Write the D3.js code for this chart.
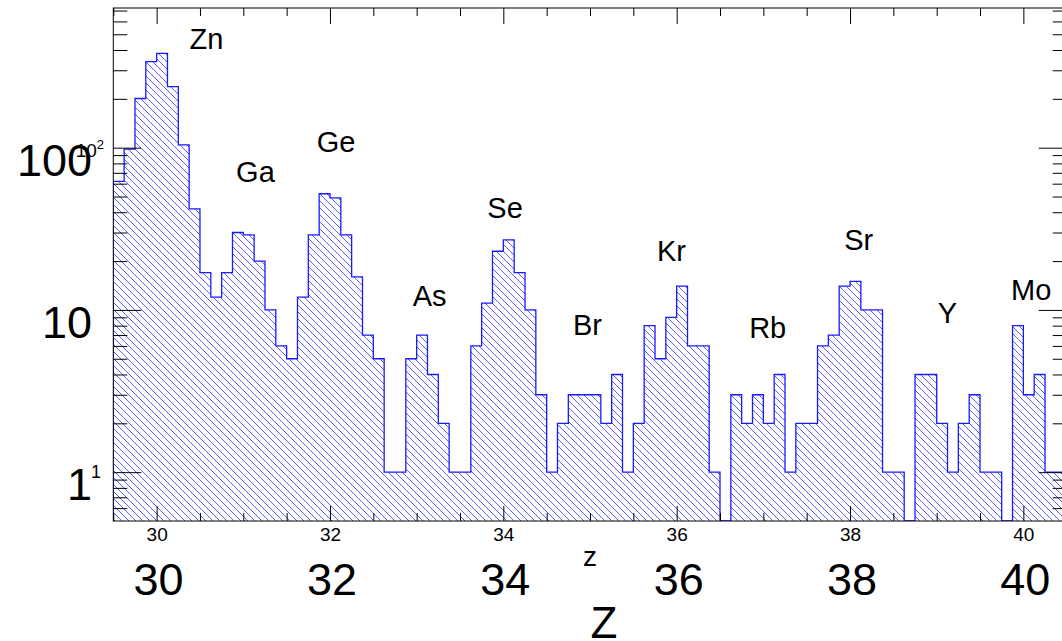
<!DOCTYPE html>
<html>
<head>
  <meta charset="utf-8">
  <title>Z</title>
  <script src="https://d3js.org/d3.v7.min.js"></script>
  <style>
    body { margin: 0; background: #fff; }
    text { font-family: "Liberation Sans", Arial, Helvetica, sans-serif; fill: #000; }
  </style>
</head>
<body>
<div id="vis"></div>
<script>
// histogram: 88 bins of 0.125 from Z = 29.5
var binStart = 29.5;
var binWidth = 0.125;
var counts = [
  62, 98, 201, 339, 381, 238, 104, 42,
  17, 12, 17, 30, 29, 20, 10, 6,
  5, 12, 29, 52, 49, 29, 16, 7,
  5, 1, 1, 5, 7, 4, 2, 1,
  1, 6, 11, 23, 27, 17, 10, 3,
  1, 2, 3, 3, 3, 2, 4, 1,
  2, 8, 5, 9, 14, 6, 6, 1,
  0, 3, 2, 3, 2, 4, 1, 2,
  2, 6, 7, 14, 15, 10, 10, 1,
  1, 0, 4, 4, 2, 1, 2, 3,
  1, 1, 0, 8, 3, 4, 1, 1
];

// element labels (position in Z, height in counts)
var elemNames = ["Zn", "Ga", "Ge", "As", "Se", "Br", "Kr", "Rb", "Sr", "Y", "Mo"];
var elemZ     = [30.575, 31.14, 32.07, 33.15, 34.02, 34.97, 35.94, 37.05, 38.10, 39.125, 40.09];
var elemY     = [405, 61.5, 94, 10.6, 36.9, 7.0, 20.1, 6.7, 23.4, 8.3, 11.5];

// axis ticks
var xMajor = [30, 32, 34, 36, 38, 40];
var xMinor = [29.5, 30.5, 31, 31.5, 32.5, 33, 33.5, 34.5, 35, 35.5, 36.5, 37, 37.5, 38.5, 39, 39.5, 40.5];
var yMajor = [1, 10, 100];
var yMinor = [0.6, 0.7, 0.8, 0.9, 2, 3, 4, 5, 6, 7, 8, 9, 20, 30, 40, 50, 60, 70, 80, 90, 200, 300, 400, 500, 600, 700];
var xTitle = "Z";

var W = 1062, H = 641;
var fL = 113.3, fR = 1066.7, fT = 8, fB = 521;

var x = d3.scaleLinear().domain([29.5, 40.5]).range([fL, fR]);
var y = d3.scaleLog().domain([0.5, 726]).range([fB, fT]).clamp(true);

var svg = d3.select("#vis").append("svg")
  .attr("width", W)
  .attr("height", H);

svg.append("rect").attr("width", W).attr("height", H).attr("fill", "#fff");

var defs = svg.append("defs");
var pat = defs.append("pattern")
  .attr("id", "hatch")
  .attr("patternUnits", "userSpaceOnUse")
  .attr("width", 7)
  .attr("height", 7);
pat.append("path")
  .attr("d", "M-1,-1L8,8M-1,6L1,8M6,-1L8,1")
  .attr("stroke", "#3333ff")
  .attr("stroke-opacity", 0.8)
  .attr("stroke-width", 1);

defs.append("clipPath").attr("id", "frame")
  .append("rect")
  .attr("x", fL).attr("y", fT)
  .attr("width", fR - fL).attr("height", fB - fT);

// step outline of the histogram
var pts = [[x(binStart), y(0.5)]];
counts.forEach(function(c, i) {
  var x0 = binStart + i * binWidth;
  var v = c > 0 ? c : 0.5;
  pts.push([x(x0), y(v)]);
  pts.push([x(x0 + binWidth), y(v)]);
});
pts.push([x(binStart + counts.length * binWidth), y(0.5)]);

var g = svg.append("g").attr("clip-path", "url(#frame)");
g.append("path")
  .attr("d", d3.line()(pts) + "Z")
  .attr("fill", "url(#hatch)")
  .attr("stroke", "none");
g.append("path")
  .attr("d", d3.line()(pts))
  .attr("fill", "none")
  .attr("stroke", "#1a1aff")
  .attr("stroke-width", 1.3);

// frame
svg.append("rect")
  .attr("x", fL).attr("y", fT)
  .attr("width", fR - fL).attr("height", fB - fT)
  .attr("fill", "none")
  .attr("stroke", "#000")
  .attr("stroke-width", 1);

function tickStyle(sel) {
  sel.select(".domain").remove();
  sel.selectAll(".tick line").attr("stroke", "#000");
}

// bottom axis (small labels)
svg.append("g")
  .attr("transform", "translate(0," + fB + ")")
  .call(d3.axisBottom(x).tickValues(xMajor).tickSize(-15).tickPadding(7).tickFormat(d3.format("d")))
  .call(tickStyle)
  .selectAll("text")
  .style("font-size", "19px");
svg.append("g")
  .attr("transform", "translate(0," + fB + ")")
  .call(d3.axisBottom(x).tickValues(xMinor).tickSize(-8).tickFormat(""))
  .call(tickStyle);

// top axis
svg.append("g")
  .attr("transform", "translate(0," + fT + ")")
  .call(d3.axisTop(x).tickValues(xMajor).tickSize(-16).tickFormat(""))
  .call(tickStyle);
svg.append("g")
  .attr("transform", "translate(0," + fT + ")")
  .call(d3.axisTop(x).tickValues(xMinor).tickSize(-8).tickFormat(""))
  .call(tickStyle);

// left and right axes
[[d3.axisLeft, fL], [d3.axisRight, fR]].forEach(function(a) {
  svg.append("g")
    .attr("transform", "translate(" + a[1] + ",0)")
    .call(a[0](y).tickValues(yMajor).tickSize(-28).tickFormat(""))
    .call(tickStyle);
  svg.append("g")
    .attr("transform", "translate(" + a[1] + ",0)")
    .call(a[0](y).tickValues(yMinor).tickSize(-14).tickFormat(""))
    .call(tickStyle);
});

// small y labels (1 and 10^2)
svg.append("text")
  .attr("x", 101).attr("y", y(1)).attr("dy", "0.35em")
  .attr("text-anchor", "end")
  .style("font-size", "18px")
  .text("1");
var sup = svg.append("text")
  .attr("x", 104).attr("y", y(100) + 9)
  .attr("text-anchor", "end")
  .style("font-size", "19px");
sup.append("tspan").text("10");
sup.append("tspan").attr("dy", -8).style("font-size", "13px").text("2");

// big overlay labels
svg.selectAll("text.bigy").data(yMajor).enter().append("text")
  .attr("class", "bigy")
  .attr("x", 92)
  .attr("y", function(d) { return y(d) + 28; })
  .attr("text-anchor", "end")
  .style("font-size", "45px")
  .text(function(d) { return d; });

svg.selectAll("text.bigx").data(xMajor).enter().append("text")
  .attr("class", "bigx")
  .attr("x", function(d) { return x(d) + 2; })
  .attr("y", 595)
  .attr("text-anchor", "middle")
  .style("font-size", "45px")
  .text(function(d) { return d; });

// axis titles
svg.append("text")
  .attr("x", 590).attr("y", 566)
  .attr("text-anchor", "middle")
  .style("font-size", "28px")
  .text(xTitle.toLowerCase());
svg.append("text")
  .attr("x", 604).attr("y", 638)
  .attr("text-anchor", "middle")
  .style("font-size", "44px")
  .text(xTitle);

// element names
svg.selectAll("text.elem").data(elemNames).enter().append("text")
  .attr("class", "elem")
  .attr("x", function(d, i) { return x(elemZ[i]); })
  .attr("y", function(d, i) { return y(elemY[i]); })
  .attr("text-anchor", "middle")
  .style("font-size", "29px")
  .text(function(d) { return d; });
</script>
</body>
</html>
